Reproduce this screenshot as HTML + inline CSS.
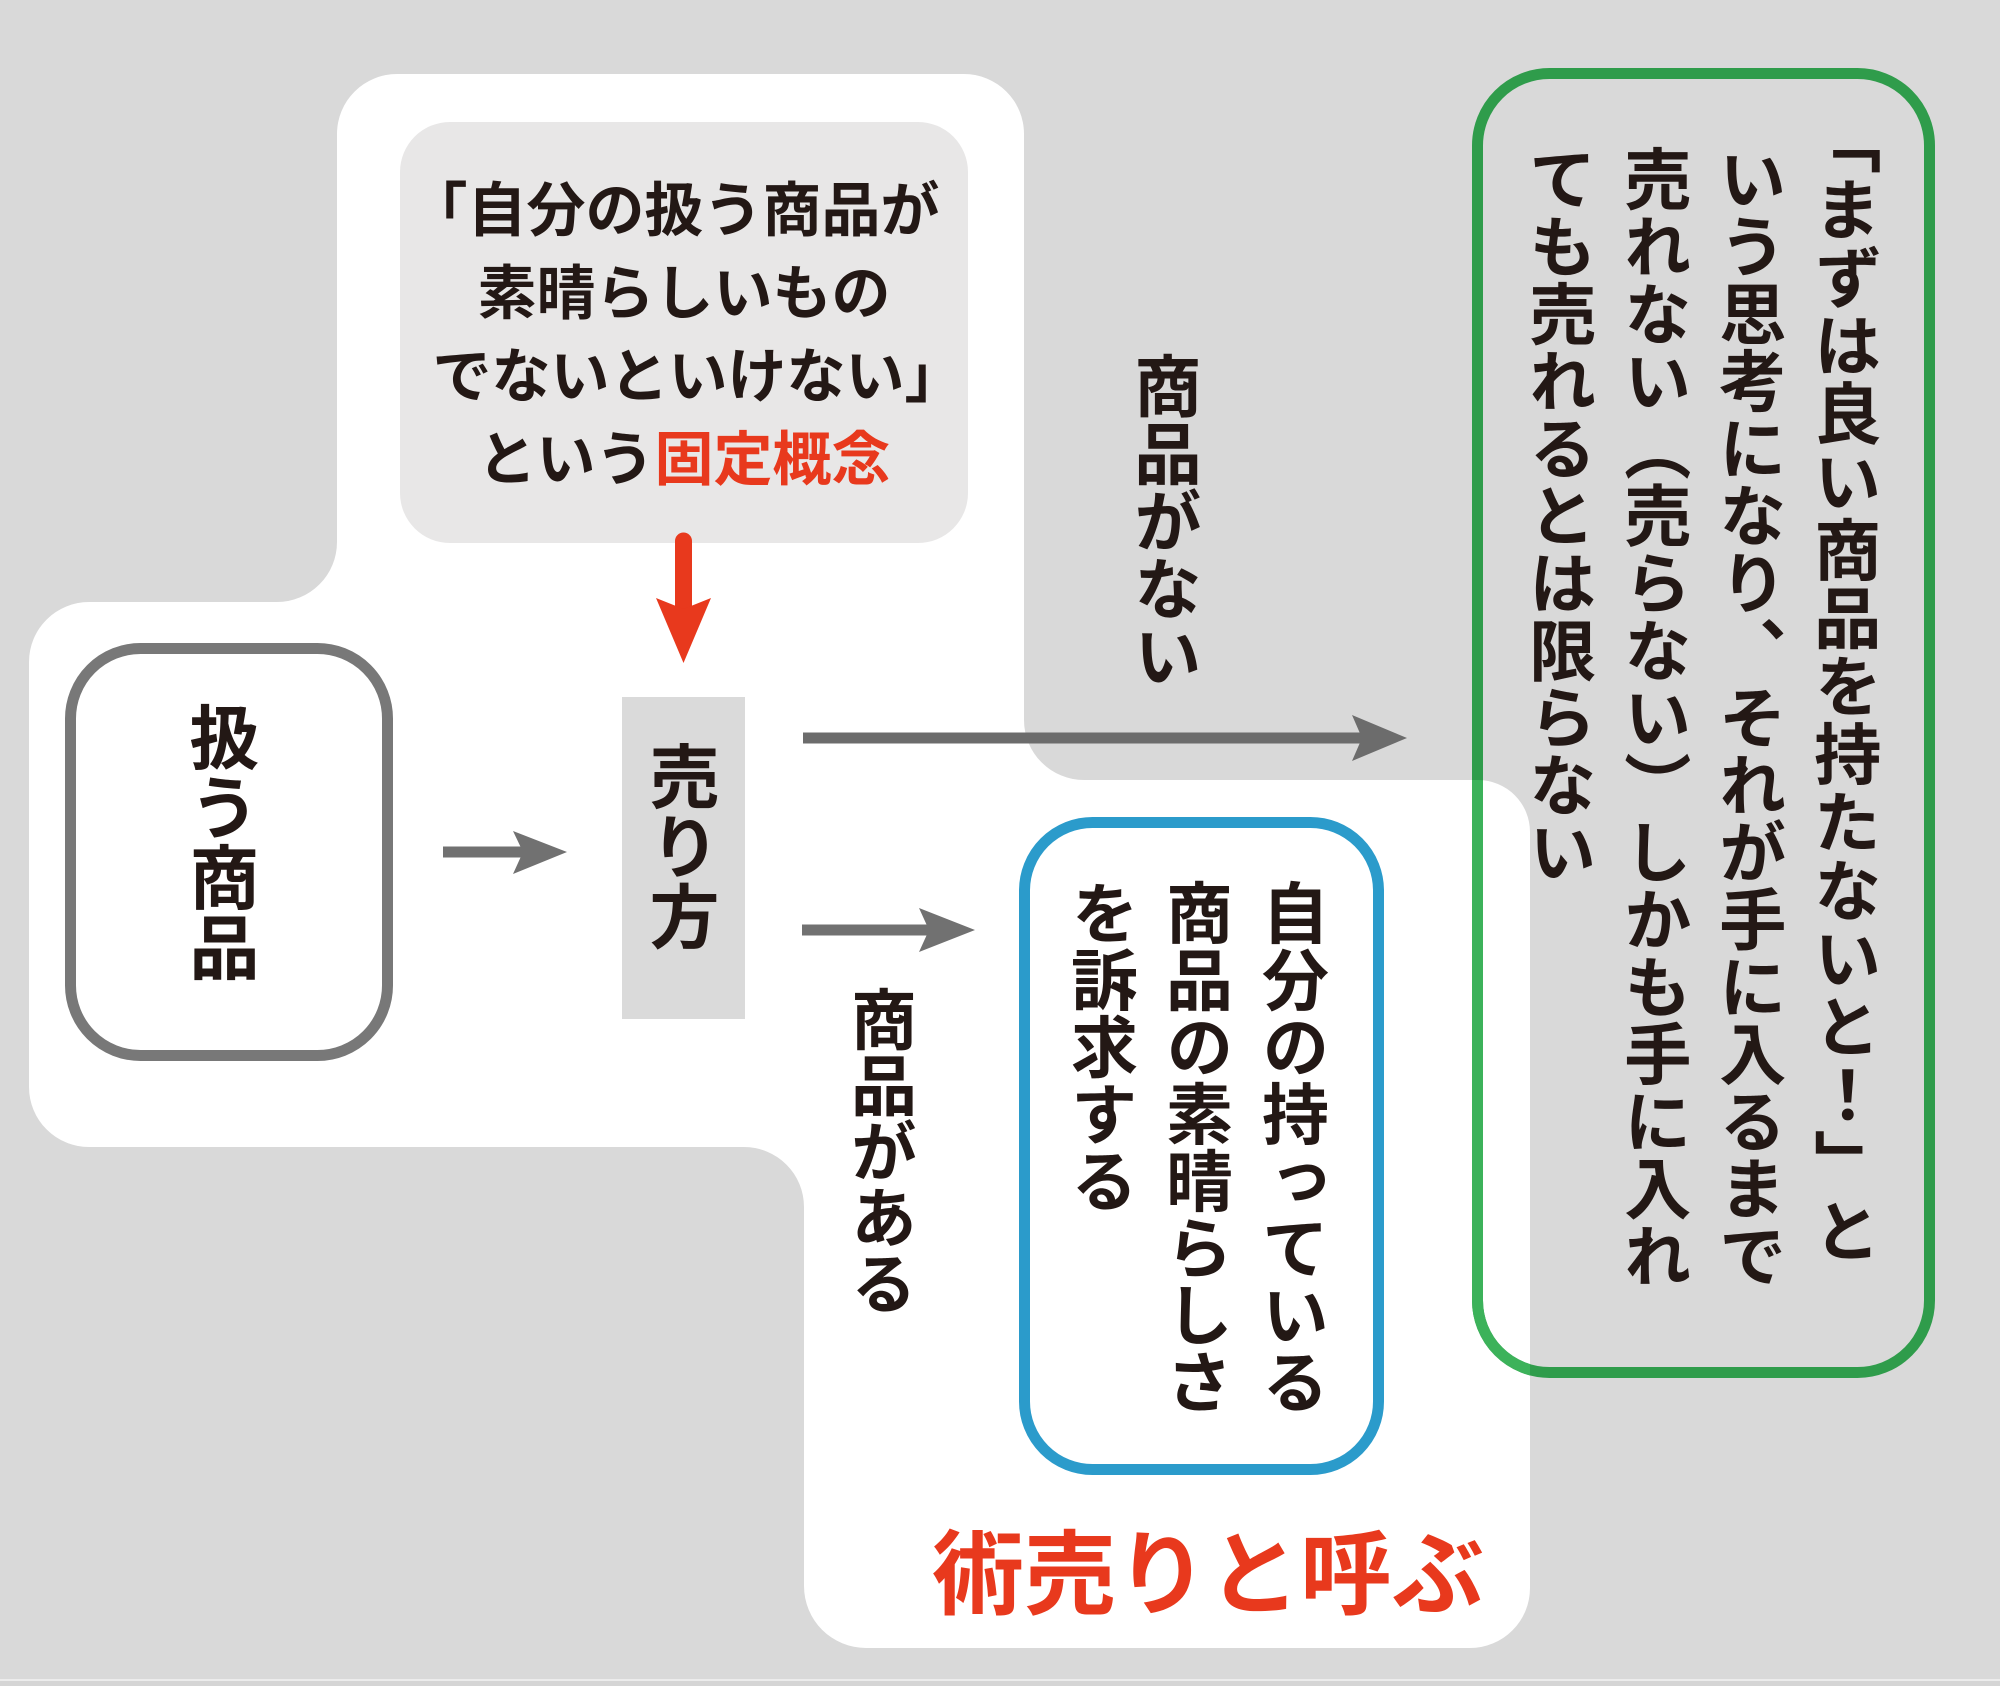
<!DOCTYPE html>
<html>
<head>
<meta charset="utf-8">
<style>
  html, body { margin:0; padding:0; }
  body { width:2000px; height:1686px; position:relative; overflow:hidden; background:#d9d9d9; }
  .t { position:absolute; font-family:"Liberation Sans","Noto Sans CJK JP",sans-serif; font-weight:700; color:#231815; white-space:nowrap; }
  .v { writing-mode:vertical-rl; text-orientation:mixed; text-spacing-trim:space-all; }
  .red { color:#e8391d; }
  .ln { position:absolute; left:400px; width:568px; text-align:center; font-size:59px; line-height:83px; }
</style>
</head>
<body>
<svg width="2000" height="1686" viewBox="0 0 2000 1686" style="position:absolute;left:0;top:0">
  <defs>
    <clipPath id="wc">
      <path d="M 397 74 H 964 A 60 60 0 0 1 1024 134 V 720 A 60 60 0 0 0 1084 780 H 1478 A 52 52 0 0 1 1530 832 V 1588 A 60 60 0 0 1 1470 1648 H 866 A 62 62 0 0 1 804 1586 V 1207 A 60 60 0 0 0 744 1147 H 89 A 60 60 0 0 1 29 1087 V 662 A 60 60 0 0 1 89 602 H 277 A 60 60 0 0 0 337 542 V 134 A 60 60 0 0 1 397 74 Z"/>
    </clipPath>
  </defs>
  <rect x="0" y="0" width="2000" height="1686" fill="#d9d9d9"/>
  <rect x="0" y="1679" width="2000" height="2" fill="#ececec"/>
  <rect x="0" y="1681" width="2000" height="5" fill="#d5d5d5"/>
  <!-- white region -->
  <path fill="#ffffff" d="M 397 74 H 964 A 60 60 0 0 1 1024 134 V 720 A 60 60 0 0 0 1084 780 H 1478 A 52 52 0 0 1 1530 832 V 1588 A 60 60 0 0 1 1470 1648 H 866 A 62 62 0 0 1 804 1586 V 1207 A 60 60 0 0 0 744 1147 H 89 A 60 60 0 0 1 29 1087 V 662 A 60 60 0 0 1 89 602 H 277 A 60 60 0 0 0 337 542 V 134 A 60 60 0 0 1 397 74 Z"/>
  <!-- inner light box -->
  <rect x="400" y="122" width="568" height="421" rx="50" ry="50" fill="#e8e7e7"/>
  <!-- 売り方 rect -->
  <rect x="622" y="697" width="123" height="322" fill="#dadada"/>
  <!-- 扱う商品 box -->
  <rect x="70.5" y="648.5" width="317" height="407" rx="70" ry="70" fill="none" stroke="#787878" stroke-width="11"/>
  <!-- blue box -->
  <rect x="1024.5" y="822.5" width="354" height="647" rx="68" ry="68" fill="none" stroke="#2b9bcb" stroke-width="11"/>
  <!-- green box -->
  <rect x="1477.5" y="73.5" width="452" height="1299" rx="72" ry="72" fill="none" stroke="#2f9c4b" stroke-width="11"/>
  <rect x="1477.5" y="73.5" width="452" height="1299" rx="72" ry="72" fill="none" stroke="#3cb25a" stroke-width="11" clip-path="url(#wc)"/>

  <!-- red arrow -->
  <line x1="683.5" y1="541" x2="683.5" y2="612" stroke="#e8391d" stroke-width="17" stroke-linecap="round"/>
  <polygon points="656,598 683.5,609 711,598 683.5,663" fill="#e8391d"/>

  <!-- arrow 扱う商品 -> 売り方 -->
  <rect x="443" y="846.5" width="80" height="11" fill="#717171"/>
  <polygon points="513,831 567,852 513,874 523,852" fill="#717171"/>

  <!-- upper long arrow -->
  <rect x="803" y="732.5" width="562" height="11" fill="#6c6c6c"/>
  <polygon points="1352,715 1407,738 1352,761 1362,738" fill="#6c6c6c"/>

  <!-- lower arrow -->
  <rect x="802" y="924.5" width="128" height="11" fill="#717171"/>
  <polygon points="919,908 975,930 919,952 929,930" fill="#717171"/>
</svg>

<!-- top box text -->
<div class="t ln" style="top:170px;margin-left:-10px;">「自分の扱う商品が</div>
<div class="t ln" style="top:253px;">素晴らしいもの</div>
<div class="t ln" style="top:336px;margin-left:14px;">でないといけない」</div>
<div class="t ln" style="top:419px;">という<span class="red">固定概念</span></div>

<!-- 扱う商品 -->
<div class="t v" style="left:184px;top:702px;font-size:70px;line-height:70px;">扱う商品</div>

<!-- 売り方 -->
<div class="t v" style="left:644px;top:741px;font-size:70px;line-height:70px;">売り方</div>

<!-- 商品がない -->
<div class="t v" style="left:1128px;top:352px;font-size:67.5px;line-height:67.5px;">商品がない</div>

<!-- 商品がある -->
<div class="t v" style="left:846px;top:986px;font-size:66px;line-height:66px;">商品がある</div>

<!-- blue box text -->
<div class="t v" style="left:1256px;top:879px;font-size:67px;line-height:67px;">自分の持っている</div>
<div class="t v" style="left:1160px;top:879px;font-size:67px;line-height:67px;">商品の素晴らしさ</div>
<div class="t v" style="left:1065px;top:879px;font-size:67px;line-height:67px;">を訴求する</div>

<!-- green box text -->
<div class="t v" style="left:1808px;top:107px;font-size:67.3px;line-height:67.3px;letter-spacing:0.8px;">「まずは良い商品を持たないと！」と</div>
<div class="t v" style="left:1713px;top:145px;font-size:67.3px;line-height:67.3px;">いう思考になり、それが手に入るまで</div>
<div class="t v" style="left:1618px;top:145px;font-size:67.3px;line-height:67.3px;">売れない（売らない）しかも手に入れ</div>
<div class="t v" style="left:1523px;top:145px;font-size:67.3px;line-height:67.3px;">ても売れるとは限らない</div>

<!-- 術売りと呼ぶ -->
<div class="t red" style="left:932px;top:1530px;font-size:92px;line-height:92px;">術売りと呼ぶ</div>
</body>
</html>
